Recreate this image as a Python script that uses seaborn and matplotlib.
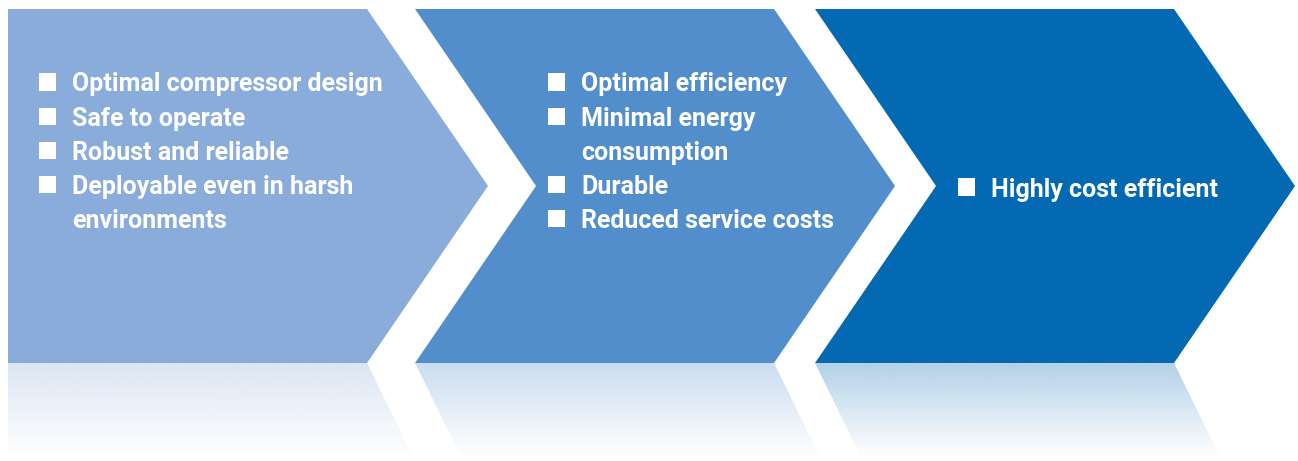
import numpy as np
import pandas as pd
import matplotlib.pyplot as plt
import seaborn as sns
from matplotlib.patches import Polygon

# chevron contents
stage1_items = ["Optimal compressor design", "Safe to operate", "Robust and reliable",
                "Deployable even in harsh\nenvironments"]
stage2_items = ["Optimal efficiency", "Minimal energy\nconsumption", "Durable",
                "Reduced service costs"]
stage3_items = ["Highly cost efficient"]
stage_colors = ["#8aacda", "#518ecb", "#0469b3"]

stages = [stage1_items, stage2_items, stage3_items]

sns.set_style("white")
plt.rcParams['font.family'] = ['Roboto', 'DejaVu Sans']

W, H = 1298, 461
fig = plt.figure(figsize=(W / 100, H / 100), dpi=100)
ax = fig.add_axes([0, 0, 1, 1])

# geometry in pixel units
x_starts = [8, 415, 815]
bullet_off = [31, 133, 143]
body_w = 359
tip = 121
top, bottom = 9, 363
mid = (top + bottom) / 2
refl_bottom = 461
slope = 0.49
line_h = 34.2

bullets = []
for i, (items, color) in enumerate(zip(stages, stage_colors)):
    x0 = x_starts[i]
    pts = [(x0, top), (x0 + body_w, top), (x0 + body_w + tip, mid), (x0 + body_w, bottom), (x0, bottom)]
    if i > 0:
        pts.append((x0 + tip, mid))
    ax.add_patch(Polygon(pts, closed=True, facecolor=color, edgecolor="none", zorder=2))

    # reflection below, fading out
    dy = refl_bottom - bottom
    rpts = [(x0, bottom), (x0 + body_w, bottom), (x0 + body_w + slope * dy, refl_bottom)]
    rpts.append((x0 + (slope * dy if i > 0 else 0), refl_bottom))
    clip = Polygon(rpts, closed=True, facecolor="none", edgecolor="none")
    ax.add_patch(clip)
    rgb = np.array(plt.matplotlib.colors.to_rgb(color))
    n = 200
    grad = np.zeros((n, 1, 4))
    grad[:, 0, :3] = rgb
    grad[:, 0, 3] = np.clip(0.31 * (1 - np.linspace(0, 1, n)) ** 1.1, 0, 1)
    im = ax.imshow(grad, extent=(x0, x0 + body_w + slope * dy + 2, refl_bottom, bottom),
                   origin="upper", aspect="auto", zorder=1, interpolation="bilinear")
    im.set_clip_path(clip)

    # bullet text
    n_lines = sum(len(s.split("\n")) for s in items)
    y = 82 if n_lines > 1 else mid + 1
    bx = x0 + bullet_off[i]
    tx = bx + 33
    for item in items:
        bullets.append({"x": bx + 8.5, "y": y, "stage": i})
        for k, line in enumerate(item.split("\n")):
            ax.text(tx, y + k * line_h, line, color="white", fontsize=18, fontweight="bold",
                    va="center_baseline", ha="left", zorder=4)
        y += line_h * len(item.split("\n"))

bul = pd.DataFrame(bullets)
sns.scatterplot(data=bul, x="x", y="y", marker="s", s=150, color="white",
                edgecolor="none", ax=ax, zorder=4, legend=False)
ax.set_xlim(0, W)
ax.set_ylim(H, 0)
ax.axis("off")

fig.savefig("out.png", dpi=100)
